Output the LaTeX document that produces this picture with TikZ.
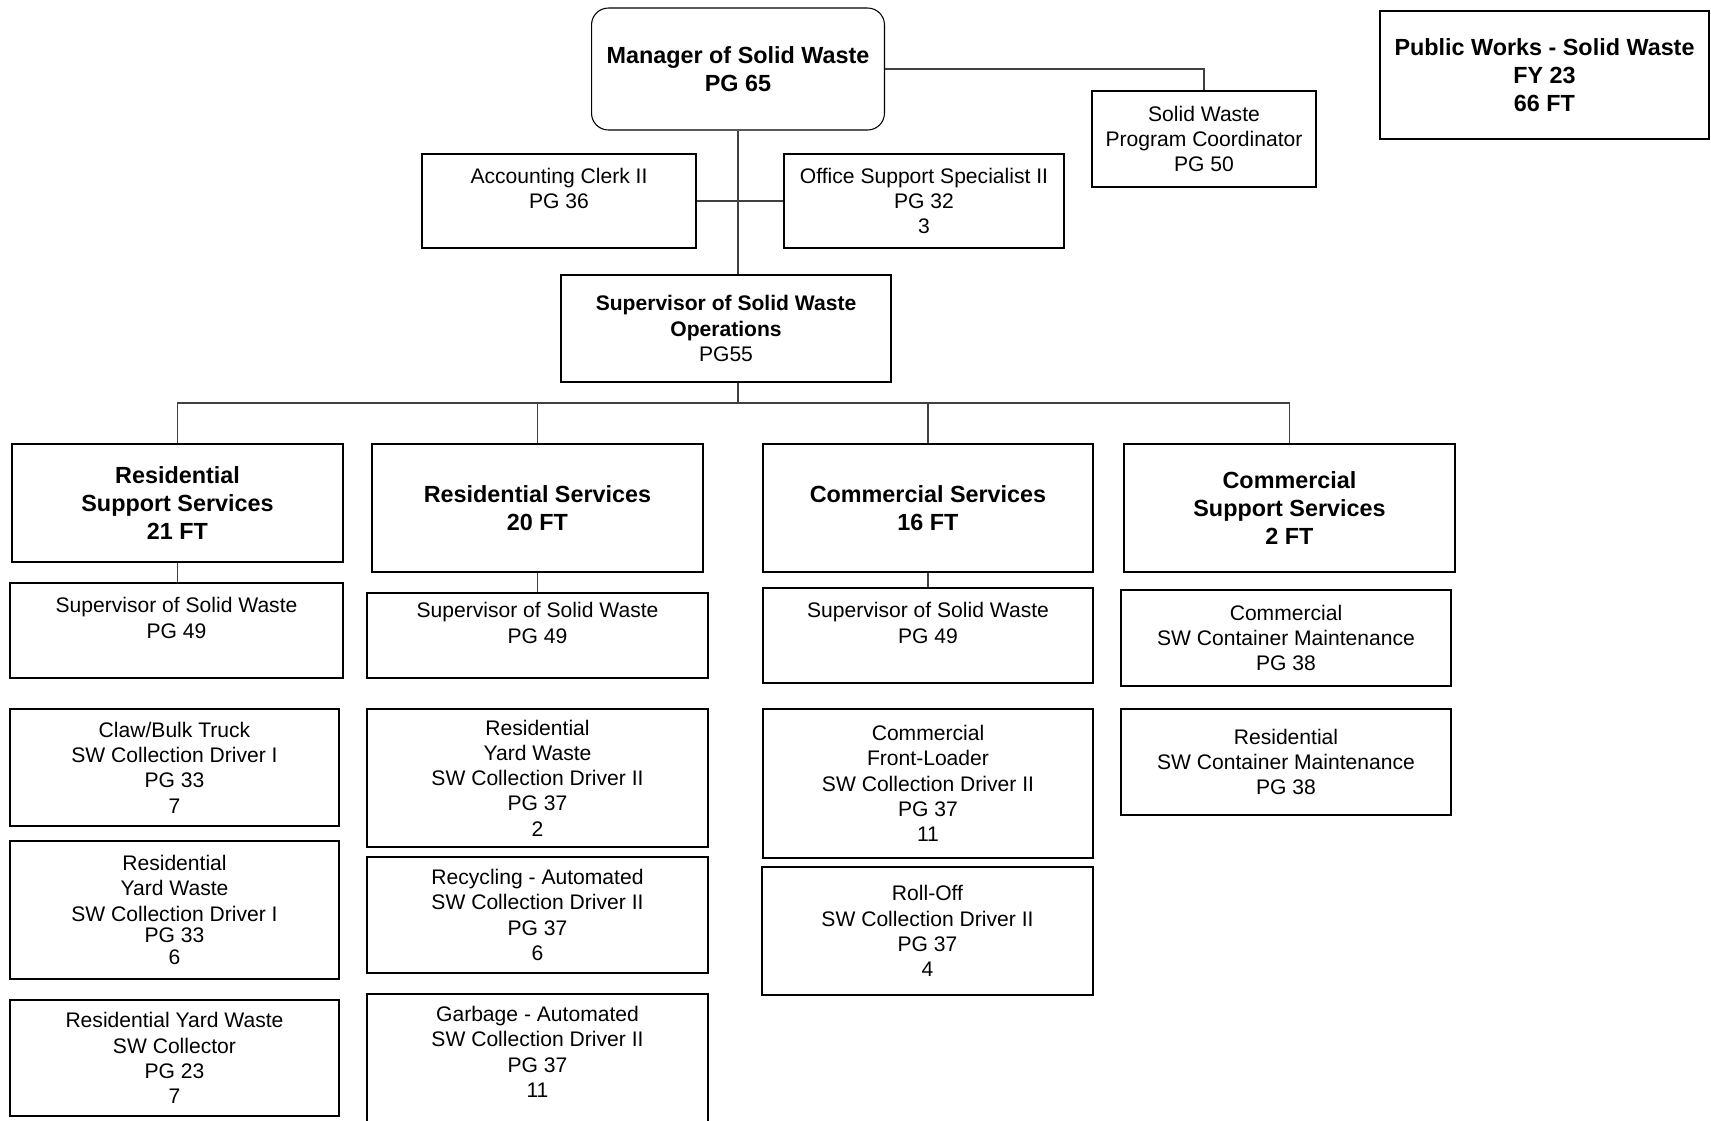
\documentclass[tikz,border=0pt]{standalone}
\usepackage{fontspec}
\setmainfont{Liberation Sans}
\newcommand{\boxfont}{\fontsize{12}{14.4}\selectfont}
\newcommand{\hdrfont}{\bfseries\fontsize{13.3}{16.2}\selectfont}

\begin{document}
\begin{tikzpicture}[
  x=0.02cm, y=-0.02cm,
  every node/.style={font=\boxfont},
  posbox/.style={draw, line width=1.5pt, align=center, inner sep=0pt},
  hdrbox/.style={posbox, font=\hdrfont},
  link/.style={draw=black!75, line width=0.6pt}
]
\useasboundingbox (0,0) rectangle (1711,1120);

% ---- Top: manager, staff and operations supervisor ----
\node[hdrbox, line width=0.6pt, rounded corners=9.6pt, minimum width=5.86cm, minimum height=2.44cm] (mgr) at (738,69) {Manager of Solid Waste\\PG 65};
\node[hdrbox, font=\bfseries\fontsize{13.3}{15.8}\selectfont, minimum width=6.58cm, minimum height=2.56cm] (pwsw) at (1544.5,75) {Public Works - Solid Waste\\FY 23\\66 FT};
\node[posbox, minimum width=4.48cm, minimum height=1.92cm] (coord) at (1204,139) {Solid Waste\\Program Coordinator\\PG 50};
\node[posbox, minimum width=5.48cm, minimum height=1.88cm] (acct) at (559,201) {Accounting Clerk II\\PG 36\\~};
\node[posbox, minimum width=5.60cm, minimum height=1.88cm] (oss) at (924,201) {Office Support Specialist II\\PG 32\\3};
\node[posbox, minimum width=6.60cm, minimum height=2.14cm] (ops) at (726,328.5) {\textbf{Supervisor of Solid Waste}\\\textbf{Operations}\\PG55};
\coordinate (bus) at (738,403);

\draw[link] (mgr.east) -| (coord.north);
\draw[link] (acct.east) -- (oss.west);
\draw[link] (mgr.south) -- (mgr.south |- ops.north);
\draw[link] (mgr.south |- ops.south) -- (bus);

% ---- Section heads ----
\node[hdrbox, minimum width=6.62cm, minimum height=2.36cm] (rss) at (177.5,503) {Residential\\Support Services\\21 FT};
\node[hdrbox, minimum width=6.62cm, minimum height=2.56cm] (rsvc) at (537.5,508) {Residential Services\\20 FT};
\node[hdrbox, minimum width=6.60cm, minimum height=2.56cm] (csvc) at (928,508) {Commercial Services\\16 FT};
\node[hdrbox, minimum width=6.62cm, minimum height=2.56cm] (css) at (1289.5,508) {Commercial\\Support Services\\2 FT};

\draw[link] (rss.north) |- (bus) -| (css.north);
\draw[link] (rsvc.north) -- (rsvc.north |- bus);
\draw[link] (csvc.north) -- (csvc.north |- bus);

% ---- Residential support services ----
\node[posbox, minimum width=6.66cm, minimum height=1.90cm] (rssSup) at (176.5,630.5) {Supervisor of Solid Waste\\PG 49\\~};
\node[posbox, minimum width=6.58cm, minimum height=2.34cm] (rssClaw) at (174.5,767.5) {Claw/Bulk Truck\\SW Collection Driver I\\PG 33\\7};
\node[posbox, minimum width=6.58cm, minimum height=2.76cm] (rssYard) at (174.5,910) {Residential\\Yard Waste\\SW Collection Driver I\\[-2pt]PG 33\\[-2pt]6};
\node[posbox, minimum width=6.58cm, minimum height=2.32cm] (rssColl) at (174.5,1058) {Residential Yard Waste\\SW Collector\\PG 23\\7};
\draw[link] (rss.south) -- (rss.south |- rssSup.north);

% ---- Residential services ----
\node[posbox, minimum width=6.82cm, minimum height=1.70cm] (rsvcSup) at (537.5,635.5) {Supervisor of Solid Waste\\PG 49\\~};
\node[posbox, minimum width=6.82cm, minimum height=2.76cm] (rsvcYard) at (537.5,778) {Residential\\Yard Waste\\SW Collection Driver II\\PG 37\\2};
\node[posbox, minimum width=6.82cm, minimum height=2.32cm] (rsvcRecy) at (537.5,915) {Recycling - Automated\\SW Collection Driver II\\PG 37\\6};
\node[posbox, minimum width=6.82cm, minimum height=2.82cm] (rsvcGarb) at (537.5,1064.5) {Garbage - Automated\\SW Collection Driver II\\PG 37\\11\\~};
\draw[link] (rsvc.south) -- (rsvc.south |- rsvcSup.north);

% ---- Commercial services ----
\node[posbox, minimum width=6.60cm, minimum height=1.90cm] (csvcSup) at (928,635.5) {Supervisor of Solid Waste\\PG 49\\~};
\node[posbox, minimum width=6.60cm, minimum height=2.98cm] (csvcFront) at (928,783.5) {Commercial\\Front-Loader\\SW Collection Driver II\\PG 37\\11};
\node[posbox, minimum width=6.62cm, minimum height=2.56cm] (csvcRoll) at (927.5,931) {Roll-Off\\SW Collection Driver II\\PG 37\\4};
\draw[link] (csvc.south) -- (csvc.south |- csvcSup.north);

% ---- Commercial support services ----
\node[posbox, minimum width=6.60cm, minimum height=1.92cm] (cssComm) at (1286,638) {Commercial\\SW Container Maintenance\\PG 38};
\node[posbox, minimum width=6.60cm, minimum height=2.12cm] (cssRes) at (1286,762) {Residential\\SW Container Maintenance\\PG 38};
\end{tikzpicture}
\end{document}
